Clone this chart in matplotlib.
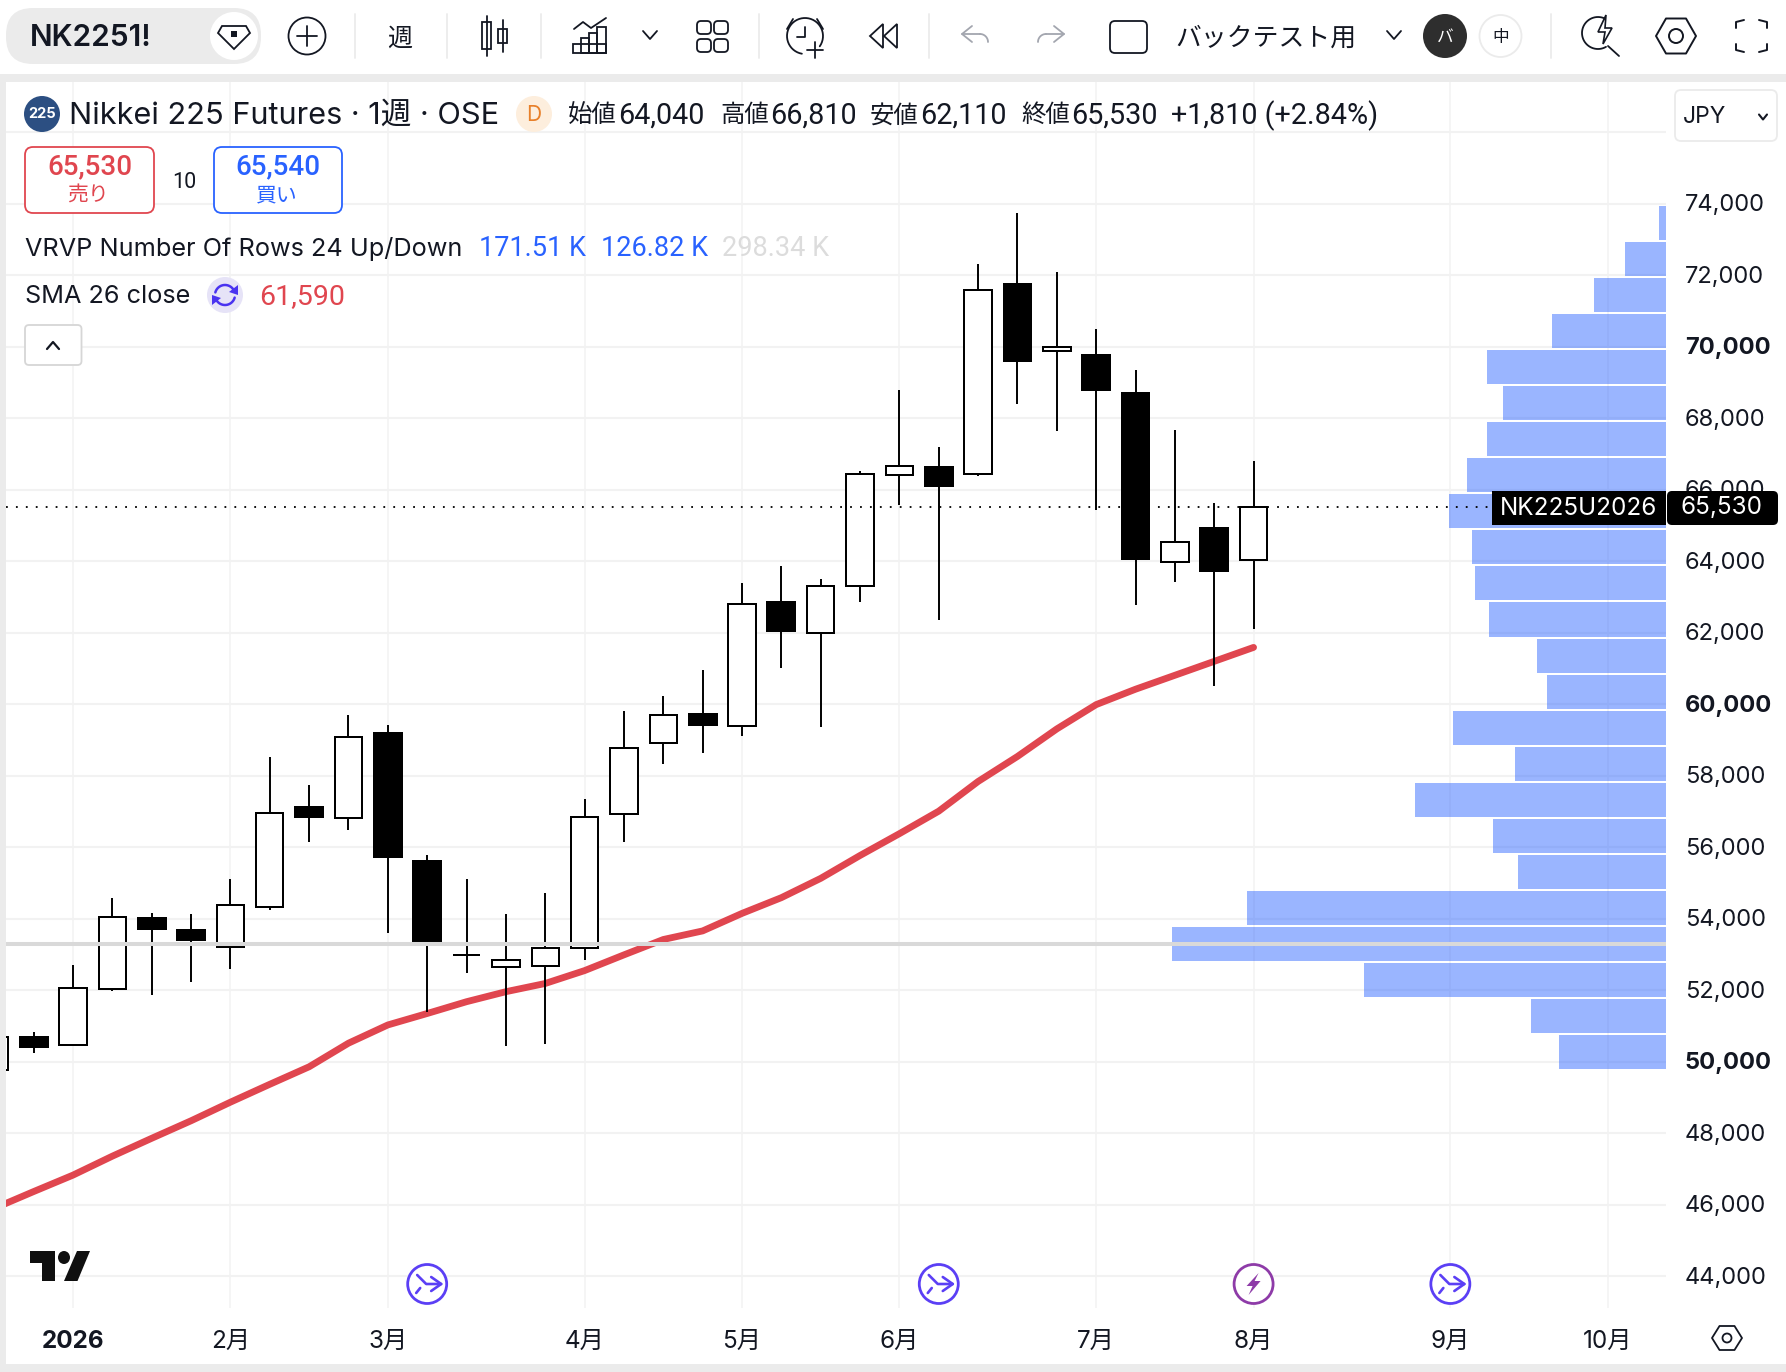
import numpy as np
import matplotlib
matplotlib.use('Agg')
import matplotlib.pyplot as plt
from matplotlib.patches import Circle, Ellipse, FancyBboxPatch, Polygon, Rectangle
from matplotlib.transforms import ScaledTranslation

plt.rcParams['font.family'] = ['Inter', 'Noto Sans CJK JP', 'DejaVu Sans']
ROBOTO = ['Roboto', 'Noto Sans CJK JP', 'DejaVu Sans']

# weekly candles, index 0 is the first week of 2026
weeks = list(range(-2, 31))
opens = [49770, 50720, 50460, 52030, 54050, 53710, 53210, 54320, 57150, 56810, 59220,
         55640, 52980, 52650, 52680, 53180, 56930, 58920, 59750, 59390, 62890, 61990,
         63300, 66400, 66670, 66440, 71780, 69870, 69800, 68740, 63980, 64960, 64040]
highs = [50700, 50820, 52710, 54580, 54150, 54130, 55110, 58530, 57740, 59700, 59420,
         55780, 55110, 54130, 54720, 57350, 59810, 60230, 60960, 63390, 63870, 63510,
         66510, 68790, 67200, 72320, 73740, 72090, 70490, 69350, 67660, 65630, 66810]
lows = [49770, 50250, 50460, 51990, 51870, 52240, 52600, 54250, 56150, 56480, 53610,
        51400, 52490, 50450, 50510, 52850, 56160, 58340, 58640, 59120, 61000, 59350,
        62870, 65570, 62370, 66380, 68400, 67630, 65440, 62780, 63430, 60520, 62110]
closes = [50700, 50385, 52070, 54060, 53690, 53380, 54390, 56970, 56820, 59090, 55700,
          53290, 52990, 52860, 53190, 56860, 58790, 59710, 59390, 62810, 62020, 63320,
          66450, 66650, 66080, 71590, 69570, 70000, 68760, 64040, 64550, 63690, 65530]
sma26 = [45900, 46370, 46830, 47360, 47860, 48350, 48870, 49370, 49860, 50520, 51030,
         51350, 51680, 51960, 52190, 52550, 52990, 53420, 53660, 54150, 54590, 55130,
         55770, 56380, 57010, 57840, 58540, 59310, 59990, 60420, 60810, 61200, 61590]

# volume profile, bottom row first, thousands
vrvp_rows = 24
vrvp_low = 49770
vrvp_step = 1008
vrvp_vol = [7.3, 9.2, 20.6, 33.7, 28.6, 10.1, 11.8, 17.1, 10.3, 14.5, 8.1, 8.8,
            12.1, 13.0, 13.2, 14.8, 13.6, 12.2, 11.1, 12.2, 7.8, 4.9, 2.8, 0.5]

last_price = 65530
grey_level = 53290
price_ticks = list(range(44000, 78000, 2000))
bold_prices = [50000, 60000, 70000]
month_weeks = [0, 4, 8, 13, 17, 21, 26, 30, 35, 39]
month_labels = ['2026', '2月', '3月', '4月', '5月', '6月', '7月', '8月', '9月', '10月']
split_weeks = [9, 22, 35]
earnings_weeks = [30]

INK = '#131722'
RED = '#e0464f'
BLUE = '#2962ff'
GREY = '#ebebeb'
W, H = 1786, 1372

fig = plt.figure(figsize=(W / 100, H / 100), dpi=100, facecolor='white')

# price pane
ax = fig.add_axes([6 / W, (H - 1308) / H, 1660 / W, 1226 / H], zorder=1)
ax.set_xlim(-1.703, 40.48)
ax.set_ylim(43113, 77404)
for s in ax.spines.values():
    s.set_visible(False)
ax.set_axisbelow(True)
ax.yaxis.grid(True, color='#f2f2f2', lw=1.5)
ax.xaxis.grid(True, color='#f3f3f3', lw=1.2)

ax.set_yticks(price_ticks)
ax.set_yticklabels(['' if p > 74000 else f'{p:,}' for p in price_ticks], fontsize=17, color=INK)
ax.yaxis.tick_right()
ax.tick_params(axis='y', length=0, pad=13.5)
nudge = ScaledTranslation(0, 1 / 100, fig.dpi_scale_trans)
for tick, p in zip(ax.yaxis.get_major_ticks(), price_ticks):
    tick.label2.set_transform(tick.label2.get_transform() + nudge)
    if p in bold_prices:
        tick.label2.set_fontweight('bold')
ax.set_xticks(month_weeks)
ax.set_xticklabels(month_labels, fontsize=17.5, color=INK)
ax.tick_params(axis='x', length=0, pad=16)
ax.get_xticklabels()[0].set_fontweight('bold')

ax.plot(weeks, sma26, color=RED, lw=4.9, solid_capstyle='round', zorder=3)

for wk, o, hi, lo, c in zip(weeks, opens, highs, lows, closes):
    ax.vlines(wk, lo, hi, color='black', lw=1.4, zorder=4)
    if c >= o:
        ax.bar(wk, c - o, bottom=o, width=0.695, facecolor='white', edgecolor='black', lw=1.44, zorder=5)
    else:
        ax.bar(wk, o - c, bottom=c, width=0.76, color='black', lw=0, zorder=5)

# profile on its own x scale, growing left from the price axis
ax2 = ax.twiny()
ax2.set_zorder(2)
ax2.set_xlim(-113.2, 0)
ax2.set_ylim(ax.get_ylim())
ax2.xaxis.set_visible(False)
for s in ax2.spines.values():
    s.set_visible(False)
rows = [vrvp_low + vrvp_step * (k + 0.5) for k in range(vrvp_rows)]
ax2.barh(rows, vrvp_vol, left=[-v for v in vrvp_vol], height=vrvp_step * 0.945,
         color=BLUE, alpha=0.47, lw=0, zorder=2)
ax2.axhline(grey_level, color='#d9d9d9', lw=2.9, zorder=3)
ax2.axhline(last_price, color='black', lw=1.3, ls=(0, (1, 4.5)), zorder=3)

# chrome on top, in pixels
ov = fig.add_axes([0, 0, 1, 1], zorder=10)
ov.set_xlim(0, W)
ov.set_ylim(H, 0)
ov.axis('off')


def ln(xs, ys, c=INK, lw=1.3):
    ov.plot(xs, ys, color=c, lw=lw, solid_capstyle='round', solid_joinstyle='round')


def box(x0, y0, x1, y1, r=5, fc='white', ec=INK, lw=1.3):
    ov.add_patch(FancyBboxPatch((x0 + r, y0 + r), x1 - x0 - 2 * r, y1 - y0 - 2 * r,
                                boxstyle=f'round,pad={r}', fc=fc, ec=ec, lw=lw))


def txt(x, y, s, size=17, c=INK, ha='left', weight='normal', family=None):
    ov.text(x, y + 2.3, s, fontsize=size, color=c, ha=ha, va='center', fontweight=weight,
            family=family if family else plt.rcParams['font.family'])


def chevron(x, y, w=7, h=5, c=INK, lw=1.3):
    ln([x - w, x, x + w], [y - h, y + h, y - h], c, lw)


def hexagon(cx, cy, rx, ry, r, lw=1.4):
    dx = rx * 0.5
    ov.add_patch(Polygon([(cx - rx, cy), (cx - dx, cy - ry), (cx + dx, cy - ry),
                          (cx + rx, cy), (cx + dx, cy + ry), (cx - dx, cy + ry)],
                         fc='none', ec=INK, lw=lw, joinstyle='round'))
    ov.add_patch(Circle((cx, cy), r, fc='none', ec=INK, lw=lw))


def arc(cx, cy, r, a0, a1, c=INK, lw=1.3):
    t = np.radians(np.linspace(a0, a1, 40))
    ln(cx + r * np.cos(t), cy + r * np.sin(t), c, lw)


# grey frame
ov.add_patch(Rectangle((0, 74), W, 8, fc=GREY, lw=0))
ov.add_patch(Rectangle((0, 74), 6, H - 74, fc=GREY, lw=0))
ov.add_patch(Rectangle((0, 1364), W, 8, fc=GREY, lw=0))

# toolbar
box(6, 8, 261, 64, r=27, fc=GREY, ec=GREY, lw=0)
ov.add_patch(Ellipse((234, 36), 48, 48, fc='white', lw=0))
txt(30, 36, 'NK2251!', 21.5, weight='semibold')
ov.add_patch(Polygon([(222, 26), (246, 26), (250, 33), (234, 49), (218, 33)], fc='none', ec=INK, lw=1.3))
ov.add_patch(Rectangle((231, 31), 6, 6, fc=INK, lw=0))

ov.add_patch(Circle((307, 36), 18.5, fc='none', ec=INK, lw=1.3))
ln([297, 317], [36, 36])
ln([307, 307], [26, 46])
for sx in [355, 447, 541, 759, 929, 1551]:
    ln([sx, sx], [14, 58], '#ececec', 1.3)
txt(400, 37, '週', 18, ha='center')

ln([487, 487], [16, 56])
ov.add_patch(Rectangle((482, 22), 9, 27, fc='white', ec=INK, lw=1.3))
ln([503, 503], [20, 52])
ov.add_patch(Rectangle((498, 29), 9, 14, fc='white', ec=INK, lw=1.3))

ln([574, 583, 591, 606], [29, 22, 28, 18])
ov.add_patch(Rectangle((573, 44), 33, 9, fc='none', ec=INK, lw=1.3))
ov.add_patch(Rectangle((581, 38), 8, 15, fc='none', ec=INK, lw=1.3))
ov.add_patch(Rectangle((589, 33), 8, 20, fc='none', ec=INK, lw=1.3))
ov.add_patch(Rectangle((597, 27), 9, 26, fc='none', ec=INK, lw=1.3))
chevron(650, 35, 7, 4)
for qx, qy in [(697, 21), (714, 21), (697, 39), (714, 39)]:
    box(qx, qy, qx + 14, qy + 13, r=4)

arc(805, 36, 18, 100, 395)
ln([805, 805, 797], [27, 37, 37])
ln([787, 793], [29, 19])
ln([823, 817], [29, 19])
ln([815, 815], [42, 58])
ln([807, 823], [50, 50])
ov.add_patch(Polygon([(870, 36), (883, 24), (883, 48)], fc='none', ec=INK, lw=1.3))
ov.add_patch(Polygon([(884, 36), (897, 24), (897, 48)], fc='none', ec=INK, lw=1.3))

t = np.radians(np.linspace(-90, 0, 20))
ln(980 + 8 * np.cos(t), 42 + 8 * np.sin(t), '#a3a6af')
ln([962, 980], [34, 34], '#a3a6af')
ln([972, 962, 972], [26, 34, 42], '#a3a6af')
ln(1046 - 8 * np.cos(t), 42 + 8 * np.sin(t), '#a3a6af')
ln([1046, 1064], [34, 34], '#a3a6af')
ln([1054, 1064, 1054], [26, 34, 42], '#a3a6af')

box(1110, 21, 1147, 53, r=5)
txt(1175, 37, 'バックテスト用', 18.6)
chevron(1394, 35, 7, 4)
ov.add_patch(Circle((1445, 36), 22, fc='#2e2e2e', lw=0))
txt(1445, 35, 'バ', 12, 'white', ha='center')
ov.add_patch(Circle((1500.5, 36), 21, fc='white', ec=GREY, lw=1.3))
txt(1500.5, 35, '中', 12, ha='center')

arc(1598, 33, 16, 60, 295)
ln([1608, 1619], [46, 56])
ov.add_patch(Polygon([(1606, 15), (1598, 32), (1605, 32), (1603, 44), (1612, 28), (1605, 28)],
                     fc='none', ec=INK, lw=1.2))
hexagon(1676, 36, 20, 17.5, 7)
for fx, fy, dx, dy in [(1736, 20, 1, 1), (1767, 20, -1, 1), (1736, 52, 1, -1), (1767, 52, -1, -1)]:
    ln([fx, fx, fx + 8 * dx], [fy + 8 * dy, fy + 2 * dy, fy], INK, 1.4)

# legend rows
ov.add_patch(Circle((42, 114), 18, fc='#2c4f82', lw=0))
txt(42, 112, '225', 10.5, 'white', ha='center', weight='bold')
txt(69, 113.5, 'Nikkei 225 Futures · 1週 · OSE', 22.1)
ov.add_patch(Circle((534, 114), 18, fc='#fdeedd', lw=0))
txt(534, 112.5, 'D', 15, '#e8802a', ha='center')
ohlc_x = [568, 720, 870, 1021]
ohlc_lab = ['始値', '高値', '安値', '終値']
ohlc_val = ['64,040', '66,810', '62,110', '65,530']
for ox, ol, ov_s in zip(ohlc_x, ohlc_lab, ohlc_val):
    txt(ox, 113.5, ol, 17.6)
    txt(ox + 50, 113.5, ov_s, 20.7, family=ROBOTO)
txt(1171, 113.5, '+1,810 (+2.84%)', 20.7, family=ROBOTO)
box(1675, 90, 1777, 141, r=6, ec=GREY)
txt(1683, 114.5, 'JPY', 16.5)
chevron(1763, 117, 4, 2.5, INK, 1.5)

box(25, 147, 154, 213, r=8, ec=RED)
txt(89.5, 164.5, '65,530', 20, RED, ha='center', weight='medium', family=ROBOTO)
txt(88, 193.5, '売り', 15, RED, ha='center')
txt(184, 180, '10', 15.5, ha='center', family=ROBOTO)
box(214, 147, 342, 213, r=8, ec=BLUE)
txt(278, 164.5, '65,540', 20, BLUE, ha='center', weight='medium', family=ROBOTO)
txt(277, 193.5, '買い', 15, BLUE, ha='center')

txt(25, 246.5, 'VRVP Number Of Rows 24 Up/Down', 18.2)
txt(479, 246.5, '171.51 K', 19.5, BLUE, family=ROBOTO)
txt(601, 246.5, '126.82 K', 19.5, BLUE, family=ROBOTO)
txt(722, 246.5, '298.34 K', 19.5, '#dcdcdc', family=ROBOTO)
txt(25, 294.5, 'SMA 26 close', 18.2)
ov.add_patch(Circle((225, 295), 18, fc='#e6e3f7', lw=0))
arc(225, 295, 10, 195, 330, '#4a33f0', 1.8)
arc(225, 295, 10, 15, 150, '#4a33f0', 1.8)
ov.add_patch(Polygon([(238, 285), (238, 295), (229, 292)], fc='#4a33f0', lw=0))
ov.add_patch(Polygon([(212, 305), (212, 295), (221, 298)], fc='#4a33f0', lw=0))
txt(259, 294.5, '61,590', 20.5, RED, family=ROBOTO)
box(25, 325, 81.5, 365, r=4, ec='#d6d6d6')
ln([47, 53, 59], [349, 342, 349], INK, 1.6)

# last price tags
ov.add_patch(Rectangle((1492, 491), 174, 34, fc='black', lw=0))
box(1667, 491, 1778, 525, r=5, fc='black', ec='black', lw=0)
txt(1579, 506.5, 'NK225U2026', 17.5, 'white', ha='center')
txt(1722, 505.5, f'{last_price:,}', 17.5, 'white', ha='center')

# TradingView mark
ov.add_patch(Polygon([(30, 1251), (54.5, 1251), (54.5, 1281), (41.5, 1281), (41.5, 1263), (30, 1263)], fc='#0f0f0f', lw=0))
ov.add_patch(Ellipse((64, 1257.5), 12, 13, fc='#0f0f0f', lw=0))
ov.add_patch(Polygon([(77, 1251), (90, 1251), (77.5, 1281), (64, 1281)], fc='#0f0f0f', lw=0))

hexagon(1727, 1338, 15, 12, 4.5, 1.3)


# calendar marks follow the week scale
def week_px(wk):
    return ax.transData.transform((wk, 0))[0]


for wk in split_weeks:
    cx, cy = week_px(wk), 1284
    ov.add_patch(Circle((cx, cy), 19.5, fc='white', ec='#5b3ff5', lw=2))
    ln([cx - 10, cx - 1, cx + 14], [cy - 9, cy, cy], '#5b3ff5', 1.9)
    ln([cx + 4, cx + 14, cx + 4], [cy - 7, cy, cy + 7], '#5b3ff5', 1.9)
    ln([cx - 11, cx - 7], [cy + 9, cy + 4], '#5b3ff5', 1.9)
for wk in earnings_weeks:
    cx, cy = week_px(wk), 1284
    ov.add_patch(Circle((cx, cy), 19.5, fc='white', ec='#8e3ba8', lw=2))
    ov.add_patch(Polygon([(cx + 5, cy - 11), (cx - 7, cy + 2), (cx - 1, cy + 2), (cx - 5, cy + 11),
                          (cx + 7, cy - 3), (cx + 1, cy - 3)], fc='#8e3ba8', lw=0))

fig.savefig('out.png', dpi=100)
